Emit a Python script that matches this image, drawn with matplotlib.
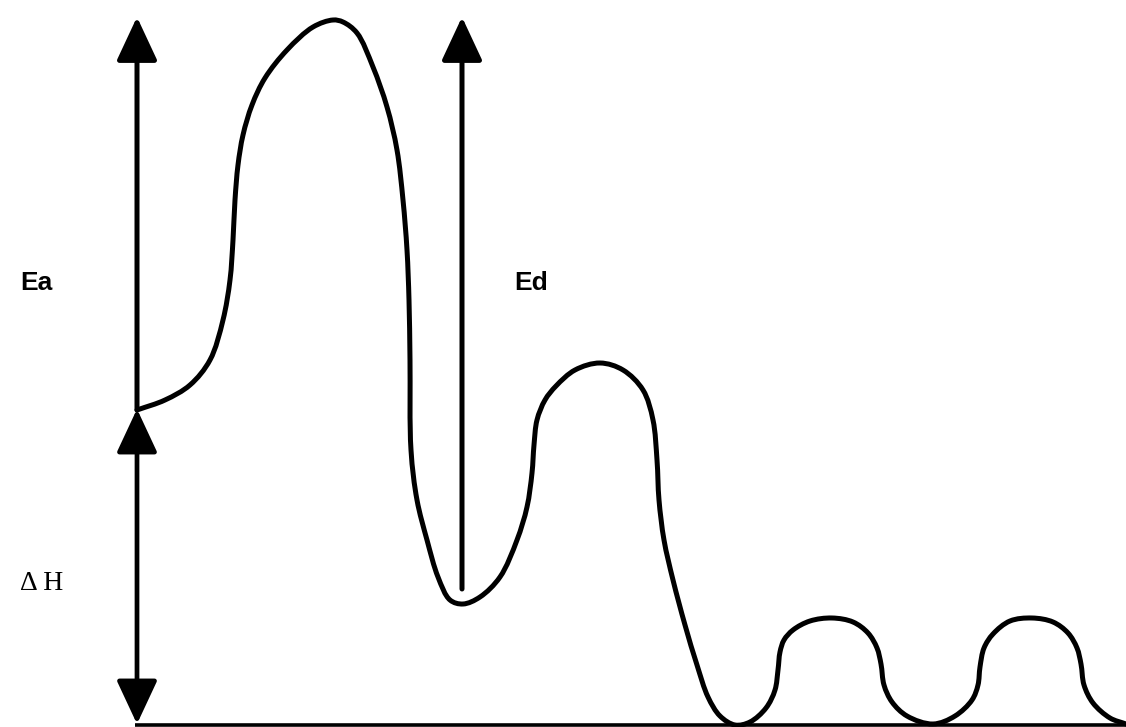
import matplotlib.pyplot as plt
from matplotlib.path import Path
from matplotlib.patches import PathPatch
import numpy as np

# energy curve, traced in picture pixels (x right, y down)
curve_x = [137, 165, 190, 210, 223, 230, 233, 235, 238, 243, 252, 265, 287, 313, 333, 343,
           357, 373, 387, 397, 403, 407, 409, 410, 411, 417, 427, 438, 450, 463, 480, 500,
           517, 527, 532, 534, 537, 545, 556, 575, 600, 623, 643, 653, 657, 659, 664, 673,
           685, 697, 708, 720, 735, 750, 766, 775, 778, 780, 784, 793, 810, 832, 853, 868,
           877, 881, 884, 892, 907, 933, 955, 972, 978, 980, 984, 993, 1010, 1032, 1053, 1068,
           1077, 1081, 1084, 1093, 1110, 1126]
curve_y = [410, 400, 385, 360, 320, 280, 240, 200, 165, 135, 105, 78, 50, 27, 20, 22,
           33, 67, 107, 150, 200, 250, 300, 360, 450, 500, 540, 577, 600, 604, 597, 577,
           540, 507, 473, 445, 420, 400, 386, 370, 363, 370, 390, 420, 460, 500, 540, 580,
           625, 665, 697, 716, 725, 722, 708, 690, 670, 652, 640, 630, 621, 618, 622, 633,
           648, 664, 685, 702, 716, 724, 716, 700, 685, 667, 648, 634, 621, 618, 622, 633,
           648, 664, 685, 703, 718, 724]

# arrows: (x, tail_y, tip_y)
ea_arrow = (137, 410, 17)
ed_arrow = (462, 589, 17)
dh_arrow = (137, 409, 724)
base_y = 725
base_x = (135, 1126)

fig = plt.figure(figsize=(11.26, 7.27), dpi=100)
ax = fig.add_axes([0, 0, 1, 1])
ax.set_xlim(0, 1126)
ax.set_ylim(727, 0)
ax.axis('off')

# smooth curve through the traced points (centripetal Catmull-Rom as cubic Bezier)
pts = np.column_stack([curve_x, curve_y]).astype(float)
ext = np.vstack([2 * pts[0] - pts[1], pts, 2 * pts[-1] - pts[-2]])
t = np.concatenate([[0], np.cumsum(np.linalg.norm(np.diff(ext, axis=0), axis=1) ** 0.5)])


def tangent(k):
    # tangent at ext[k] in parameter t
    p0, p1, p2 = ext[k - 1], ext[k], ext[k + 1]
    t0, t1, t2 = t[k - 1], t[k], t[k + 1]
    return (p1 - p0) / (t1 - t0) - (p2 - p0) / (t2 - t0) + (p2 - p1) / (t2 - t1)


verts = [pts[0]]
codes = [Path.MOVETO]
for i in range(1, len(ext) - 2):
    dt = t[i + 1] - t[i]
    verts += [ext[i] + tangent(i) * dt / 3, ext[i + 1] - tangent(i + 1) * dt / 3, ext[i + 1]]
    codes += [Path.CURVE4] * 3
ax.add_patch(PathPatch(Path(verts, codes), fill=False, lw=3.6, color='black',
                       capstyle='round', joinstyle='round'))

# baseline
ax.plot(base_x, [base_y, base_y], color='black', lw=2.6, solid_capstyle='butt')

style = '-|>,head_length=0.9,head_width=0.42'
for x, y0, y1 in [ea_arrow, ed_arrow]:
    ax.annotate('', xy=(x, y1), xytext=(x, y0),
                arrowprops=dict(arrowstyle=style, mutation_scale=30, lw=3.6,
                                color='black', shrinkA=0, shrinkB=0))
x, y0, y1 = dh_arrow
ax.annotate('', xy=(x, y1), xytext=(x, y0),
            arrowprops=dict(arrowstyle='<|-|>,head_length=0.9,head_width=0.42',
                            mutation_scale=30, lw=3.4, color='black',
                            shrinkA=0, shrinkB=0))

ax.text(20, 290, 'Ea', fontsize=19, fontweight='bold', family='Liberation Sans',
        va='baseline', ha='left')
ax.text(514, 290, 'Ed', fontsize=19, fontweight='bold', family='Liberation Sans',
        va='baseline', ha='left')
ax.text(20, 590, '\u0394 H', fontsize=20, family='Liberation Serif',
        va='baseline', ha='left')

plt.savefig('out.png', dpi=100)
